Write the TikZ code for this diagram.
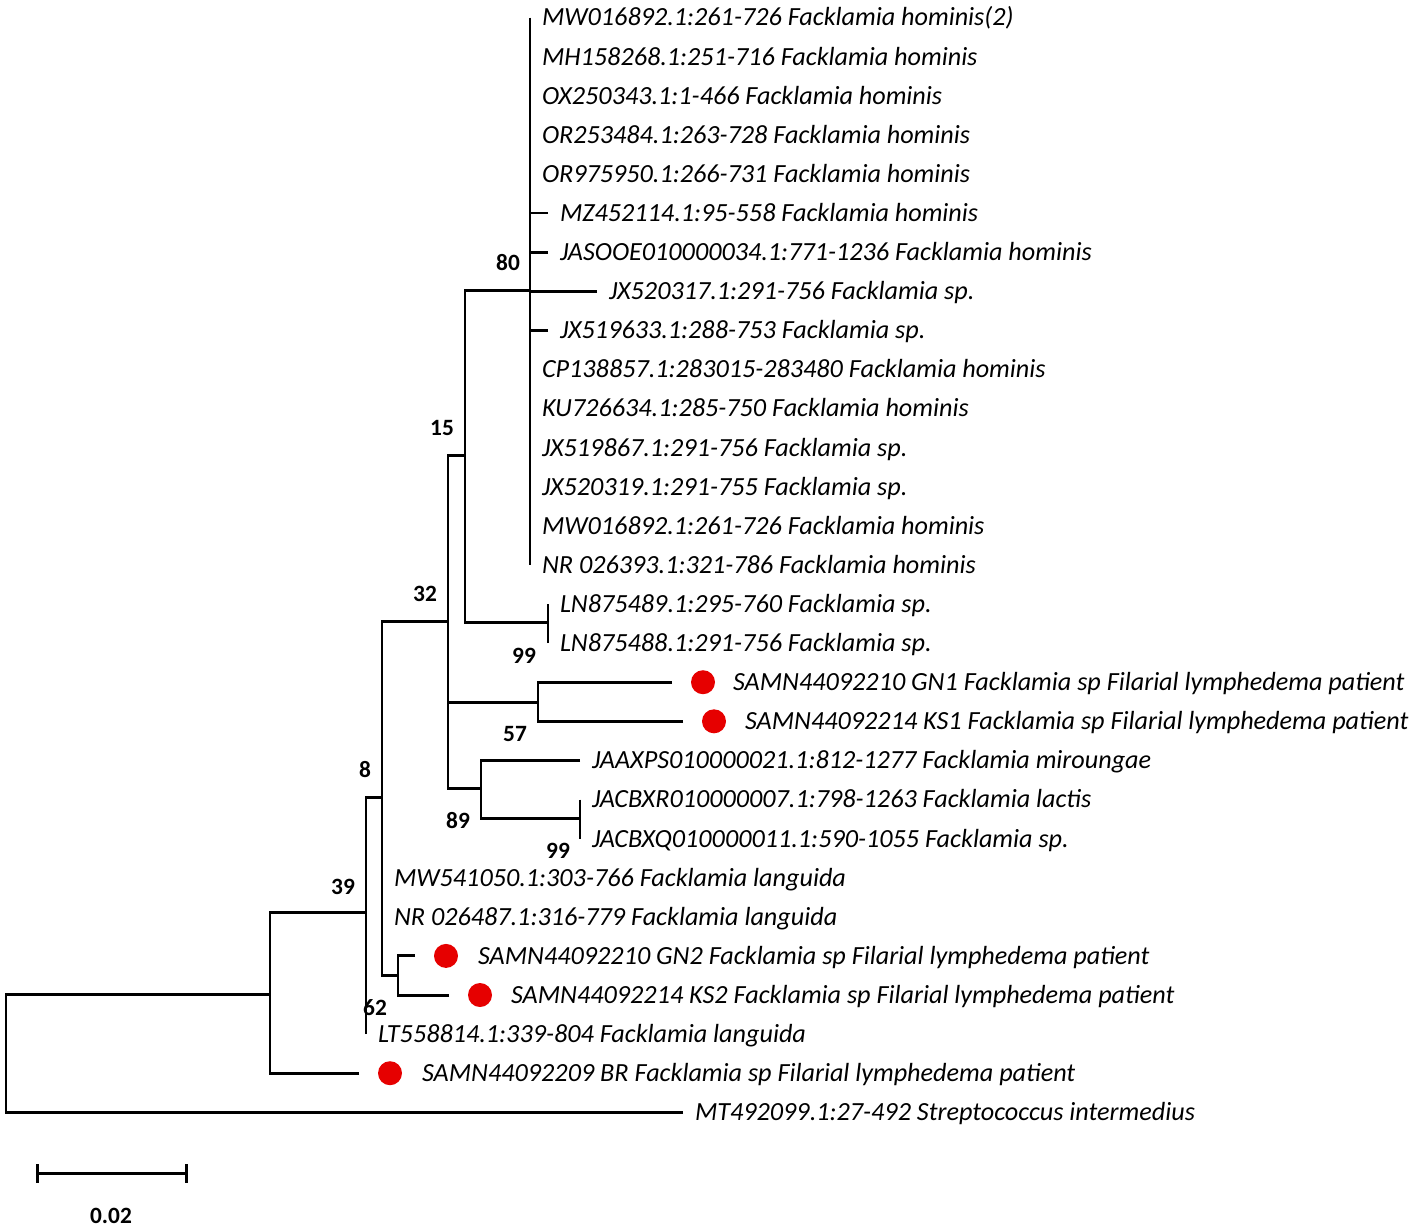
\documentclass[tikz,border=0pt]{standalone}
\usepackage{fontspec}
\setmainfont{Carlito}
\definecolor{dotred}{RGB}{230,0,0}

\begin{document}
\begin{tikzpicture}[x=0.02cm,y=-0.02cm,line width=1.7pt,
  leaf/.style={anchor=west,inner sep=0pt,outer xsep=0.24cm,outer ysep=0pt,text height=9.6pt,text depth=0pt,font=\fontsize{14.9}{18}\selectfont\itshape},
  sample/.style={leaf,outer xsep=0pt},
  spot/.style={circle,fill=dotred,minimum size=0.48cm,inner sep=0pt,outer sep=0.38cm},
  boot/.style={inner sep=0pt,font=\fontsize{13.3}{16}\selectfont\bfseries}]
\useasboundingbox (0,0) rectangle (1417,1231);

% inner nodes of the tree
\coordinate(root) at (6,1053);
\coordinate(n39) at (270,994.5);
\coordinate(n366) at (366,912);
\coordinate(n382) at (382,797);
\coordinate(n398) at (398,975);
\coordinate(n448) at (448,621);
\coordinate(n465) at (465,455);
\coordinate(n530) at (530,290.7);
\coordinate(n548) at (548,622);
\coordinate(n538) at (538,702);
\coordinate(n481) at (481,788);
\coordinate(n580) at (580,818);

% leaves
\node(l0) [leaf] at (530,17.5) {MW016892.1:261-726 Facklamia hominis(2)};
\node(l1) [leaf] at (530,56.6) {MH158268.1:251-716 Facklamia hominis};
\node(l2) [leaf] at (530,95.7) {OX250343.1:1-466 Facklamia hominis};
\node(l3) [leaf] at (530,134.8) {OR253484.1:263-728 Facklamia hominis};
\node(l4) [leaf] at (530,173.9) {OR975950.1:266-731 Facklamia hominis};
\node(l5) [leaf] at (548,213) {MZ452114.1:95-558 Facklamia hominis};
\node(l6) [leaf] at (548,252.1) {JASOOE010000034.1:771-1236 Facklamia hominis};
\node(l7) [leaf] at (597,291.2) {JX520317.1:291-756 Facklamia sp.};
\node(l8) [leaf] at (548,330.3) {JX519633.1:288-753 Facklamia sp.};
\node(l9) [leaf] at (530,369.4) {CP138857.1:283015-283480 Facklamia hominis};
\node(l10) [leaf] at (530,408.5) {KU726634.1:285-750 Facklamia hominis};
\node(l11) [leaf] at (530,447.6) {JX519867.1:291-756 Facklamia sp.};
\node(l12) [leaf] at (530,486.7) {JX520319.1:291-755 Facklamia sp.};
\node(l13) [leaf] at (530,525.8) {MW016892.1:261-726 Facklamia hominis};
\node(l14) [leaf] at (530,564.9) {NR 026393.1:321-786 Facklamia hominis};
\node(l15) [leaf] at (548,604) {LN875489.1:295-760 Facklamia sp.};
\node(l16) [leaf] at (548,643.1) {LN875488.1:291-756 Facklamia sp.};
\node(d17) [spot] at (703,682.2) {};
\node(s17) [sample] at (733,682.2) {SAMN44092210 GN1 Facklamia sp Filarial lymphedema patient};
\node(d18) [spot] at (714,721.3) {};
\node(s18) [sample] at (745,721.3) {SAMN44092214 KS1 Facklamia sp Filarial lymphedema patient};
\node(l19) [leaf] at (580,760.4) {JAAXPS010000021.1:812-1277 Facklamia miroungae};
\node(l20) [leaf] at (580,799.5) {JACBXR010000007.1:798-1263 Facklamia lactis};
\node(l21) [leaf] at (580,838.6) {JACBXQ010000011.1:590-1055 Facklamia sp.};
\node(l22) [leaf] at (382,877.7) {MW541050.1:303-766 Facklamia languida};
\node(l23) [leaf] at (382,916.8) {NR 026487.1:316-779 Facklamia languida};
\node(d24) [spot] at (446,955.9) {};
\node(s24) [sample] at (478,955.9) {SAMN44092210 GN2 Facklamia sp Filarial lymphedema patient};
\node(d25) [spot] at (480,995) {};
\node(s25) [sample] at (511,995) {SAMN44092214 KS2 Facklamia sp Filarial lymphedema patient};
\node(l26) [leaf] at (366,1034.1) {LT558814.1:339-804 Facklamia languida};
\node(d27) [spot] at (390,1073.2) {};
\node(s27) [sample] at (422,1073.2) {SAMN44092209 BR Facklamia sp Filarial lymphedema patient};
\node(l28) [leaf] at (683,1112.3) {MT492099.1:27-492 Streptococcus intermedius};

% branches
\draw (n39) -| (root);
\draw (l28) -| (root);
\draw (n366) -| (n39);
\draw (d27) -| (n39);
\draw (n382) -| (n366);
\draw (l26) -| (n366);
\draw (n448) -| (n382);
\draw (l22) -| (n382);
\draw (l23) -| (n382);
\draw (n398) -| (n382);
\draw (d24) -| (n398);
\draw (d25) -| (n398);
\draw (n465) -| (n448);
\draw (n538) -| (n448);
\draw (n481) -| (n448);
\draw (n530) -| (n465);
\draw (n548) -| (n465);
\foreach \i in {0,...,14} \draw (l\i) -| (n530);
\draw (l15) -| (n548);
\draw (l16) -| (n548);
\draw (d17) -| (n538);
\draw (d18) -| (n538);
\draw (l19) -| (n481);
\draw (n580) -| (n481);
\draw (l20) -| (n580);
\draw (l21) -| (n580);

% bootstrap values
\node(b80) [boot] at (508,263) {80};
\node(b15) [boot] at (442,428) {15};
\node(b32) [boot] at (425,594) {32};
\node(b99a) [boot] at (524,656) {99};
\node(b57) [boot] at (515,734) {57};
\node(b89) [boot] at (458,821) {89};
\node(b99b) [boot] at (558,851) {99};
\node(b8) [boot] at (365,770) {8};
\node(b39) [boot] at (343,887) {39};
\node(b62) [boot] at (375,1008) {62};

% scale bar
\coordinate(sb0) at (36,1173);
\coordinate(sb1) at (188,1173);
\draw[|-|] (sb0) -- (sb1);
\node(sbl) [boot] at (111,1216) {0.02};
\end{tikzpicture}
\end{document}
